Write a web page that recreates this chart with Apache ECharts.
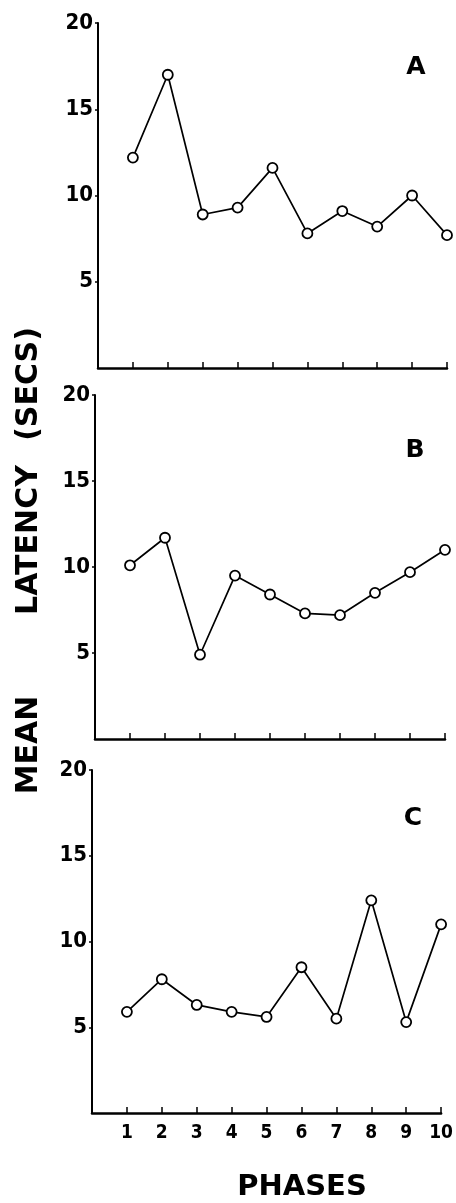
<!DOCTYPE html>
<html>
<head>
<meta charset="utf-8">
<style>
html,body{margin:0;padding:0;background:#fff;}
#chart{width:456px;height:1203px;}
</style>
<script src="https://cdn.jsdelivr.net/npm/echarts@6/dist/echarts.min.js"></script>
</head>
<body>
<div id="chart"></div>
<script>
// Data
var phases = [1, 2, 3, 4, 5, 6, 7, 8, 9, 10];
var panelA = [12.2, 17.0, 8.9, 9.3, 11.6, 7.8, 9.1, 8.2, 10.0, 7.7];
var panelB = [10.1, 11.7, 4.9, 9.5, 8.4, 7.3, 7.2, 8.5, 9.7, 11.0];
var panelC = [5.9, 7.8, 6.3, 5.9, 5.6, 8.5, 5.5, 12.4, 5.3, 11.0];
var panelLabels = ['A', 'B', 'C'];
var yTicks = [5, 10, 15, 20];
var yTitleWords = ['MEAN', 'LATENCY', '(SECS)'];
var xTitle = 'PHASES';

var chart = echarts.init(document.getElementById('chart'), null, {renderer: 'canvas'});

var numFont = "'DejaVu Sans Condensed', 'DejaVu Sans', sans-serif";
var titleFont = "'DejaVu Sans', sans-serif";

var grids = [
  {left: 98, right: 9, top: 23, height: 345},
  {left: 95, right: 11, top: 395, height: 344},
  {left: 92, right: 14, top: 770, height: 343}
];

function pairs(vals) {
  return phases.map(function (p, i) { return [p, vals[i]]; });
}

var xAxes = grids.map(function (g, i) {
  return {
    type: 'value', gridIndex: i, min: 0, max: 10, interval: 1,
    axisLine: {show: true, onZero: false, lineStyle: {color: '#000', width: 2.5}},
    axisTick: {show: true, inside: true, length: 6, lineStyle: {color: '#000', width: 1.5}},
    splitLine: {show: false},
    axisLabel: {
      show: i === 2, showMinLabel: false, margin: 11,
      color: '#000', fontSize: 19, fontWeight: 'bold', fontFamily: numFont
    }
  };
});

var yAxes = grids.map(function (g, i) {
  return {
    type: 'value', gridIndex: i, min: 0, max: 20, interval: 5,
    axisLine: {show: true, onZero: false, lineStyle: {color: '#000', width: 2}},
    axisTick: {show: true, length: 3, lineStyle: {color: '#000', width: 1.5}},
    splitLine: {show: false},
    axisLabel: {
      showMinLabel: false, margin: 5,
      color: '#000', fontSize: 22, fontWeight: 'bold', fontFamily: numFont,
      formatter: function (v) { return yTicks.indexOf(v) >= 0 ? String(v) : ''; }
    }
  };
});

var seriesData = [panelA, panelB, panelC];
var series = seriesData.map(function (vals, i) {
  return {
    type: 'line', xAxisIndex: i, yAxisIndex: i,
    data: pairs(vals),
    symbol: 'circle', symbolSize: 10,
    showAllSymbol: true,
    lineStyle: {color: '#000', width: 1.7},
    itemStyle: {color: '#fff', borderColor: '#000', borderWidth: 1.8},
    animation: false, silent: true
  };
});

var labelPos = [[416, 67], [415, 450], [413, 818]];
var graphics = panelLabels.map(function (t, i) {
  return {
    type: 'text', x: labelPos[i][0], y: labelPos[i][1],
    style: {text: t, fill: '#000', font: "bold 25px " + titleFont, align: 'center', verticalAlign: 'middle'}
  };
});

var wordPos = [745, 540, 384];
yTitleWords.forEach(function (w, i) {
  graphics.push({
    type: 'text', x: 29, y: wordPos[i], rotation: Math.PI / 2,
    style: {text: w, fill: '#000', font: "bold 30px " + titleFont, align: 'center', verticalAlign: 'middle'}
  });
});

graphics.push({
  type: 'text', x: 302, y: 1187,
  style: {text: xTitle, fill: '#000', font: "bold 29px " + titleFont, align: 'center', verticalAlign: 'middle'}
});

chart.setOption({
  backgroundColor: '#fff',
  animation: false,
  grid: grids,
  xAxis: xAxes,
  yAxis: yAxes,
  series: series,
  graphic: graphics
});
</script>
</body>
</html>
